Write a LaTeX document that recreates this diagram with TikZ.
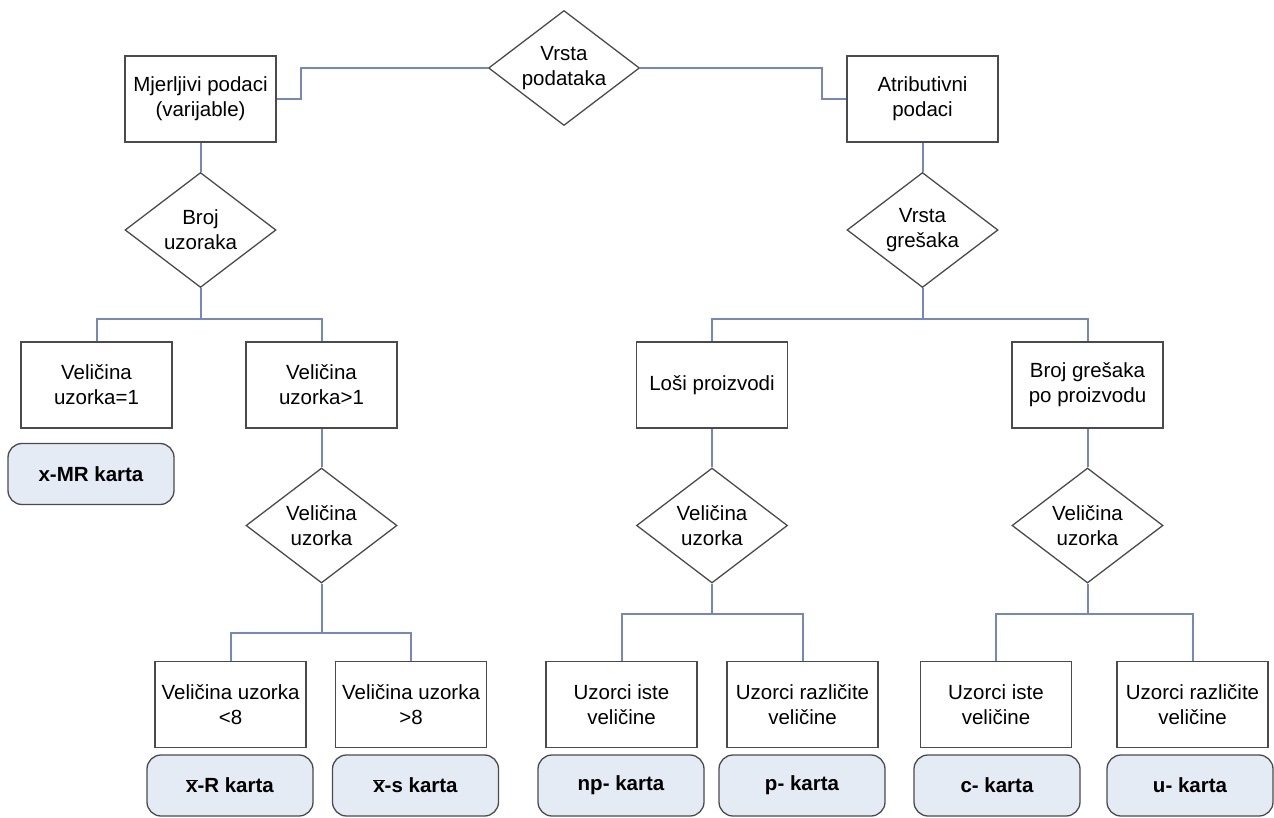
\documentclass[tikz,border=0pt]{standalone}
\usepackage{fontspec}
\setmainfont{Liberation Sans}
\usetikzlibrary{shapes.geometric}
\definecolor{linkblue}{RGB}{118,134,190}
\definecolor{edgegray}{RGB}{75,75,75}
\definecolor{chartfill}{RGB}{229,235,245}
\newcommand{\barx}{\ensuremath{\overline{\mbox{x}}}}
\tikzset{
every node/.style={font=\fontsize{20.5}{25}\selectfont, align=center, inner sep=2pt}, % text of all nodes
decision/.style={diamond, draw=edgegray, line width=1.3pt, aspect=1.31, inner sep=0pt,
  minimum width=151pt, minimum height=115pt}, % the question diamonds
choice/.style={rectangle, draw=edgegray, line width=1.6pt, minimum width=151pt, minimum height=86pt}, % answer boxes
chart/.style={rectangle, rounded corners=14pt, draw=edgegray, fill=chartfill, line width=1.3pt,
  minimum width=166pt, minimum height=61pt, font=\fontsize{20.5}{25}\selectfont\bfseries}, % resulting chart
link/.style={draw=linkblue, line width=2pt}, % connecting lines
}

\begin{document}
\begin{tikzpicture}[x=1pt, y=-1pt]
        \useasboundingbox (0,0) rectangle (1274,818);

        \node[decision] (vrsta) at (564,68) {Vrsta\\podataka};
        \node[choice] (mjer) at (200.5,99) {Mjerljivi podaci\\(varijable)};
        \node[choice] (atrib) at (922.5,99) {Atributivni\\podaci};

        % variable data
        \node[decision] (brojuz) at (200.5,230) {Broj\\uzoraka};
        \node[choice] (vel1) at (96.5,385) {Veličina\\uzorka=1};
        \node[choice] (vel2) at (321.5,385) {Veličina\\uzorka>1};
        \node[chart] (xmr) at (91,474) {x-MR karta};
        \node[decision] (velL) at (321.5,525.5) {Veličina\\uzorka};
        \node[choice] (lt8) at (230.5,704.5) {Veličina uzorka\\<8};
        \node[choice] (gt8) at (411,704.5) {Veličina uzorka\\>8};
        \node[chart] (xr) at (230,785.5) {\barx-R karta};
        \node[chart] (xs) at (415.5,785.5) {\barx-s karta};

        % attribute data
        \node[decision] (vrstag) at (922.5,230) {Vrsta\\grešaka};
        \node[choice] (losi) at (712,385) {Loši proizvodi};
        \node[choice] (brojg) at (1087.5,385) {Broj grešaka\\po proizvodu};
        \node[decision] (velA) at (712,525.5) {Veličina\\uzorka};
        \node[decision] (velB) at (1087.5,525.5) {Veličina\\uzorka};
        \node[choice] (npiste) at (621.5,704.5) {Uzorci iste\\veličine};
        \node[choice] (prazl) at (802.5,704.5) {Uzorci različite\\veličine};
        \node[choice] (ciste) at (996,704.5) {Uzorci iste\\veličine};
        \node[choice] (urazl) at (1192.5,704.5) {Uzorci različite\\veličine};
        \node[chart] (np) at (621,785.5) {np- karta};
        \node[chart] (p) at (802,785.5) {p- karta};
        \node[chart] (c) at (997,785.5) {c- karta};
        \node[chart] (u) at (1190,785.5) {u- karta};

        \draw[link] (vrsta.west) -- ++(-187,0) |- (mjer.east);
        \draw[link] (vrsta.east) -- ++(182,0) |- (atrib.west);
        \draw[link] (mjer.south) -- (brojuz.north);
        \draw[link] (atrib.south) -- (vrstag.north);
        \draw[link] (brojuz.south) -- ++(0,31) -| (vel1.north);
        \draw[link] (brojuz.south) ++(0,31) -| (vel2.north);
        \draw[link] (vel2.south) -- (velL.north);
        \draw[link] (velL.south) -- ++(0,49) -| (lt8.north);
        \draw[link] (velL.south) ++(0,49) -| (gt8.north);
        \draw[link] (vrstag.south) -- ++(0,31) -| (losi.north);
        \draw[link] (vrstag.south) ++(0,31) -| (brojg.north);
        \draw[link] (losi.south) -- (velA.north);
        \draw[link] (brojg.south) -- (velB.north);
        \draw[link] (velA.south) -- ++(0,30) -| (npiste.north);
        \draw[link] (velA.south) ++(0,30) -| (prazl.north);
        \draw[link] (velB.south) -- ++(0,30) -| (ciste.north);
        \draw[link] (velB.south) ++(0,30) -| (urazl.north);
\end{tikzpicture}
\end{document}
